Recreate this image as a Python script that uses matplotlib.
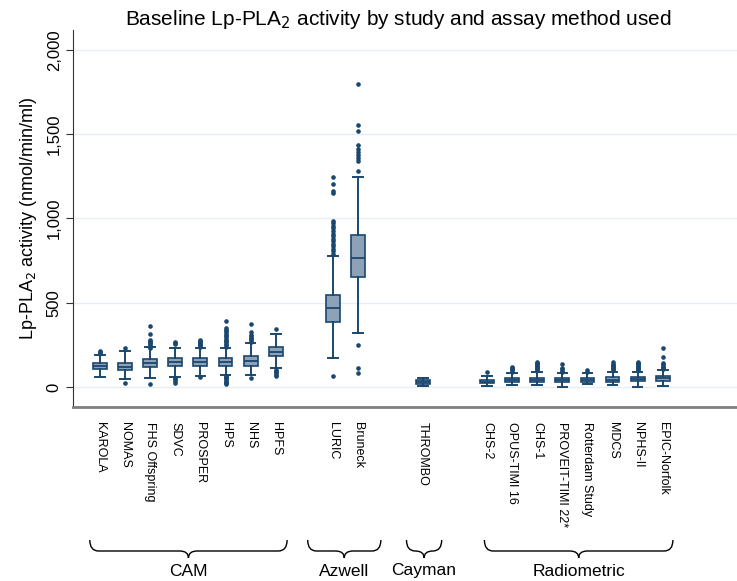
import matplotlib
matplotlib.use("Agg")
import matplotlib.pyplot as plt
from matplotlib.path import Path
from matplotlib.patches import PathPatch
from matplotlib.ticker import FuncFormatter
import matplotlib.transforms as mtransforms

plt.rcParams['font.family'] = ['Liberation Sans', 'DejaVu Sans']

# study summaries (nmol/min/ml)
studies = ['KAROLA', 'NOMAS', 'FHS Offspring', 'SDVC', 'PROSPER', 'HPS', 'NHS', 'HPFS',
           'LURIC', 'Bruneck',
           'THROMBO',
           'CHS-2', 'OPUS-TIMI 16', 'CHS-1', 'PROVEIT-TIMI 22*', 'Rotterdam Study',
           'MDCS', 'NPHS-II', 'EPIC-Norfolk']
q1 = [105, 98, 117, 124, 124, 124, 124, 184,
      387, 654,
      16,
      22, 28, 28, 28, 31, 30, 34, 37]
med = [125, 120, 142, 146, 148, 148, 156, 209,
       466, 767,
       28,
       31, 40, 43, 40, 43, 43, 49, 53]
q3 = [143, 144, 168, 170, 170, 174, 186, 235,
      545, 901,
      40,
      41, 51, 55, 51, 55, 57, 61, 67]
whis_lo = [59, 47, 51, 59, 65, 69, 71, 111,
           174, 322,
           5,
           8, 12, 12, 2, 16, 12, 2, 8]
whis_hi = [190, 213, 235, 229, 229, 229, 259, 314,
           776, 1247,
           55,
           65, 81, 91, 81, 81, 87, 91, 101]
outliers = [
    [200, 205, 213],
    [24, 233],
    [18, 230, 238, 245, 252, 258, 265, 272, 279, 312, 363],
    [24, 35, 45, 53, 255, 262, 268],
    [59, 238, 244, 250, 256, 262, 268, 274, 278],
    [18, 24, 31, 38, 45, 52, 60, 67, 239, 248, 256, 264, 272, 280, 290, 300, 310, 320, 330, 340, 350, 391],
    [52, 268, 276, 284, 292, 300, 308, 324, 372],
    [65, 72, 80, 88, 95, 101, 344],
    [65, 790, 805, 820, 835, 850, 865, 880, 895, 910, 925, 940, 955, 970, 985, 1148, 1164, 1203, 1247],
    [81, 111, 249, 1280, 1342, 1360, 1378, 1395, 1412, 1434, 1519, 1553, 1796],
    [],
    [91],
    [91, 98, 105, 112, 120],
    [100, 106, 112, 118, 124, 130, 137, 144, 150],
    [91, 97, 104, 111, 136],
    [91, 101],
    [100, 106, 112, 118, 124, 130, 137, 146],
    [100, 106, 112, 118, 124, 130, 137, 144, 150],
    [107, 113, 120, 127, 134, 140, 180, 229],
]
groups = ['CAM', 'Azwell', 'Cayman', 'Radiometric']

# box positions along x, with gaps between assay groups
positions = [0, 1, 2, 3, 4, 5, 6, 7,
             9.27, 10.27,
             12.85,
             15.4, 16.4, 17.4, 18.4, 19.4, 20.4, 21.4, 22.4]
brace_spans = [(-0.4, 7.45), (8.27, 11.18), (12.2, 13.6), (15.3, 22.8)]

navy = '#1a476f'
fill = '#8ea2b7'

fig = plt.figure(figsize=(7.37, 5.81), dpi=100)
ax = fig.add_axes([0.099, 0.30, 0.901, 0.648])

stats = []
for i in range(len(studies)):
    stats.append({'label': studies[i], 'q1': q1[i], 'med': med[i], 'q3': q3[i],
                  'whislo': whis_lo[i], 'whishi': whis_hi[i], 'fliers': outliers[i]})

ax.bxp(stats, positions=positions, widths=0.55, capwidths=0.38, patch_artist=True,
       boxprops=dict(facecolor=fill, edgecolor=navy, linewidth=1.2),
       medianprops=dict(color=navy, linewidth=1.3),
       whiskerprops=dict(color=navy, linewidth=1.4),
       capprops=dict(color=navy, linewidth=1.4),
       flierprops=dict(marker='o', markersize=2.3, markerfacecolor=navy,
                       markeredgecolor=navy, linestyle='none'))

ax.set_xlim(-1.07, 25.35)
ax.set_ylim(-117, 2116)
ax.set_yticks([0, 500, 1000, 1500, 2000])
ax.yaxis.set_major_formatter(FuncFormatter(lambda v, p: '{:,.0f}'.format(v)))
ax.grid(axis='y', color='#e6eef2', linewidth=1.0)
ax.set_axisbelow(True)
ax.tick_params(axis='y', labelsize=12, length=5, width=0.8, color='#333333', pad=3)
for lab in ax.get_yticklabels():
    lab.set_rotation(90)
    lab.set_va('center')

ax.set_xticks(positions)
ax.set_xticklabels(studies, rotation=-90, fontsize=9, va='top', ha='center')
ax.tick_params(axis='x', length=0, pad=11)

for side in ['top', 'right']:
    ax.spines[side].set_visible(False)
ax.spines['left'].set_color('#333333')
ax.spines['left'].set_linewidth(0.8)
ax.spines['bottom'].set_color('#808080')
ax.spines['bottom'].set_linewidth(2.0)

ax.set_ylabel('Lp-PLA$_2$ activity (nmol/min/ml)', fontsize=13, labelpad=6)
fig.text(0.54, 0.967, 'Baseline Lp-PLA$_2$ activity by study and assay method used',
         fontsize=15, ha='center', va='center')

# curly braces under each assay group
trans = mtransforms.blended_transform_factory(ax.transData, fig.transFigure)
y_end, y_mid, y_tip = 1 - 540 / 581, 1 - 551 / 581, 1 - 558 / 581
r = 0.35
for (x0, x1), name in zip(brace_spans, groups):
    xc = (x0 + x1) / 2
    verts = [(x0, y_end), (x0, y_mid), (x0 + r, y_mid), (x0 + r, y_mid),
             (xc - r, y_mid), (xc, y_mid), (xc, y_tip),
             (xc, y_mid), (xc + r, y_mid), (x1 - r, y_mid),
             (x1 - r, y_mid), (x1, y_mid), (x1, y_end)]
    codes = [Path.MOVETO, Path.CURVE3, Path.CURVE3, Path.LINETO,
             Path.LINETO, Path.CURVE3, Path.CURVE3,
             Path.CURVE3, Path.CURVE3, Path.LINETO,
             Path.LINETO, Path.CURVE3, Path.CURVE3]
    patch = PathPatch(Path(verts, codes), transform=trans, fill=False,
                      edgecolor='black', linewidth=1.0, clip_on=False)
    fig.add_artist(patch)
    ax.text(xc, 1 - 571 / 581, name, transform=trans, fontsize=12.5,
            ha='center', va='center')

fig.savefig('out.png', dpi=100)
